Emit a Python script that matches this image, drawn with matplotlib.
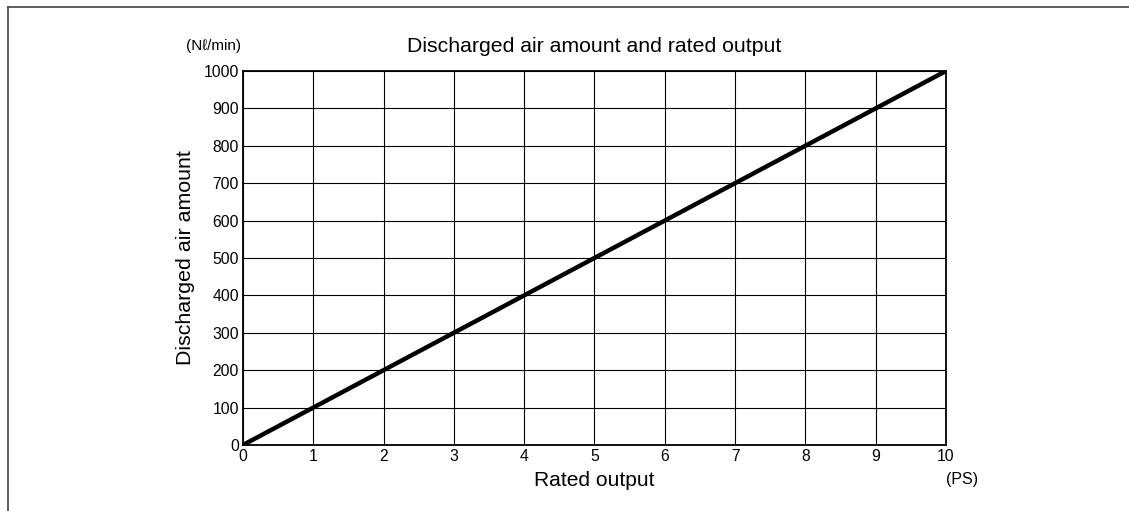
import matplotlib.pyplot as plt
from matplotlib.lines import Line2D

plt.rcParams['font.family'] = ['Liberation Sans', 'DejaVu Sans']

rated_output = [0, 10]
air_amount = [0, 1000]
x_ticks = list(range(0, 11))
y_ticks = list(range(0, 1001, 100))

fig = plt.figure(figsize=(11.29, 5.11), dpi=100)
ax = fig.add_axes([0.2152, 0.1292, 0.6227, 0.7319])

ax.plot(rated_output, air_amount, color='black', linewidth=3.2, solid_capstyle='round', zorder=3)
ax.set_xlim(0, 10)
ax.set_ylim(0, 1000)
ax.set_xticks(x_ticks)
ax.set_yticks(y_ticks)
ax.grid(True, color='black', linewidth=0.8)
ax.tick_params(length=0, labelsize=11.3, pad=3)
for s in ax.spines.values():
    s.set_linewidth(1.3)

ax.set_title('Discharged air amount and rated output', fontsize=15.3, pad=14)
ax.set_xlabel('Rated output', fontsize=15.1, labelpad=5)
ax.set_ylabel('Discharged air amount', fontsize=15.4, labelpad=6)
fig.text(0.1887, 0.910, '(N\u2113/min)', fontsize=11, ha='center', va='center')
fig.text(0.8525, 0.0626, '(PS)', fontsize=11.5, ha='center', va='center')

# page frame
fig.add_artist(Line2D([0.0075, 1.0], [0.986, 0.986], color='#444444', linewidth=1.2))
fig.add_artist(Line2D([0.0075, 0.0075], [0.0, 0.986], color='#444444', linewidth=1.2))

fig.savefig('out.png', dpi=100)
